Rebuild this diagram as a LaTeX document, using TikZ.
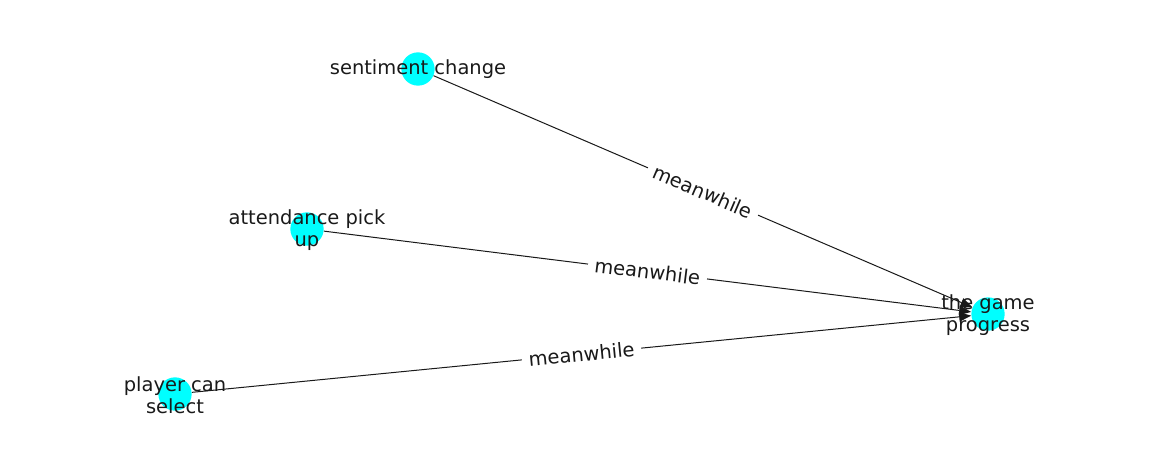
\documentclass[tikz,border=0pt]{standalone}
\usepackage{fontspec}
\setmainfont{DejaVu Sans}
\usetikzlibrary{arrows.meta}
\definecolor{nodecyan}{RGB}{0,255,255}
\begin{document}
\begin{tikzpicture}[x=0.75pt,y=-0.75pt,
  dot/.style={circle,fill=nodecyan,draw=none,minimum size=25pt,inner sep=0pt},
  lbl/.style={align=center,text=black!90,font=\fontsize{14.6}{16.5}\selectfont},
  edge/.style={draw=black!90,line width=0.75pt,-{Triangle[length=9pt,width=7pt]}},
  elbl/.style={fill=white,inner xsep=5pt,inner ysep=2pt,sloped,text=black!90,font=\fontsize{14.6}{16.5}\selectfont}]
\useasboundingbox (0,0) rectangle (1162,462);
\node[dot] (s) at (418,69) {};
\node[dot] (a) at (307,229) {};
\node[dot] (p) at (175,394) {};
\node[dot] (g) at (988,314) {};
\draw[edge] (s) -- node[elbl]{meanwhile} (g);
\draw[edge] (a) -- node[elbl]{meanwhile} (g);
\draw[edge] (p) -- node[elbl]{meanwhile} (g);
\node[lbl] (ts) at (418,69) {sentiment change};
\node[lbl] (ta) at (307,230) {attendance pick\\up};
\node[lbl] (tp) at (175,395) {player can\\select};
\node[lbl] (tg) at (988,315) {the game\\progress};
\end{tikzpicture}
\end{document}
